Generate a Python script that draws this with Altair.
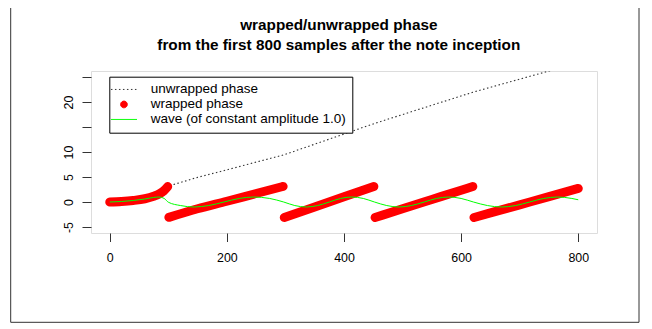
import altair as alt
import pandas as pd

# ---- data ----
# unwrapped phase (dotted line)
unwrap_x = [0, 20, 40, 60, 75, 85, 92, 100, 150, 200, 250, 297, 350, 400, 452,
            500, 550, 600, 621, 650, 700, 750, 800]
unwrap_y = [0, 0.1, 0.3, 0.65, 1.15, 1.65, 2.2, 3.18, 4.93, 6.43, 7.98, 9.42,
            11.57, 13.6, 15.71, 17.49, 19.35, 21.21, 21.99, 22.94, 24.57, 26.2, 27.84]

# wrapped phase, one branch between successive wraps
wrap_seg1_x = [0, 20, 40, 60, 75, 85, 92, 99]
wrap_seg1_y = [0, 0.1, 0.3, 0.65, 1.15, 1.65, 2.2, 3.08]
wrap_seg2_x = [101, 150, 200, 250, 296]
wrap_seg2_y = [-3.07, -1.35, 0.15, 1.70, 3.11]
wrap_seg3_x = [298, 350, 400, 451]
wrap_seg3_y = [-3.10, -0.99, 1.03, 3.10]
wrap_seg4_x = [453, 500, 550, 600, 620]
wrap_seg4_y = [-3.10, -1.36, 0.50, 2.36, 3.10]
wrap_seg5_x = [622, 650, 700, 750, 800]
wrap_seg5_y = [-3.10, -2.19, -0.56, 1.07, 2.71]

# wave of constant amplitude (green line)
wave_x = [0, 20, 40, 60, 75, 84, 93, 100, 121, 144, 169, 195, 221, 246, 273, 297,
          316, 336, 355, 375, 394, 413, 433, 452, 473, 494, 515, 537, 558, 579,
          600, 621, 645, 669, 693, 717, 741, 765, 789, 800]
wave_y = [0, 0.1, 0.3, 0.6, 0.91, 1.0, 0.71, -0.04, -0.71, -1, -0.71, 0, 0.71, 1,
          0.71, 0, -0.71, -1, -0.71, 0, 0.71, 1, 0.71, 0, -0.71, -1, -0.71, 0,
          0.71, 1, 0.71, 0, -0.71, -1, -0.71, 0, 0.71, 1, 0.71, 0.45]

series_labels = ["unwrapped phase", "wrapped phase", "wave (of constant amplitude 1.0)"]
series_colors = ["#333333", "#ff0000", "#00ff00"]

x_ticks = [0, 200, 400, 600, 800]
y_ticks = [-5, 0, 5, 10, 15, 20, 25]

title_lines = ["wrapped/unwrapped phase",
               "from the first 800 samples after the note inception"]

# ---- tables ----
df_unwrap = pd.DataFrame({"sample": unwrap_x, "value": unwrap_y,
                          "series": series_labels[0]})
segs = [(wrap_seg1_x, wrap_seg1_y), (wrap_seg2_x, wrap_seg2_y), (wrap_seg3_x, wrap_seg3_y),
        (wrap_seg4_x, wrap_seg4_y), (wrap_seg5_x, wrap_seg5_y)]
rows = []
for i, (sx, sy) in enumerate(segs):
    for a, b in zip(sx, sy):
        rows.append({"sample": a, "value": b, "seg": i, "series": series_labels[1]})
df_wrap = pd.DataFrame(rows)
df_wave = pd.DataFrame({"sample": wave_x, "value": wave_y, "series": series_labels[2]})

FONT = "Liberation Sans"

circle_path = "M-0.67,0A0.67,0.67,0,1,1,0.67,0A0.67,0.67,0,1,1,-0.67,0Z"
line_path = "M-2.6,0H2.6"

legend = alt.Legend(
    title=None, orient="none", legendX=18.3, legendY=5.7, direction="vertical",
    padding=6, strokeColor="black", fillColor="white", cornerRadius=0,
    labelFontSize=13.5, labelFont=FONT, labelColor="black", labelLimit=400,
    symbolSize=100, symbolStrokeWidth=1,
    symbolType=alt.ExprRef(f"datum.value === 'wrapped phase' ? '{circle_path}' : '{line_path}'"),
    symbolFillColor=alt.ExprRef("datum.value === 'wrapped phase' ? '#ff0000' : 'transparent'"),
    symbolDash=alt.ExprRef("datum.value === 'unwrapped phase' ? [1.5, 2.5] : [1, 0]"),
    symbolOpacity=1,
    symbolOffset=1.9, labelOffset=20, rowPadding=0,
)

x_enc = alt.X("sample:Q", scale=alt.Scale(domain=[-32, 832], nice=False, zero=False),
              axis=alt.Axis(values=x_ticks, title=None, domain=False, grid=False,
                            tickSize=8.5, tickColor="#333333", labelPadding=10,
                            labelFontSize=12.4, labelFont=FONT, labelColor="black",
                            labelFlush=False, labelOverlap=False, format="d"))
y_enc = alt.Y("value:Q", scale=alt.Scale(domain=[-6.2, 26.2], nice=False, zero=False),
              axis=alt.Axis(values=y_ticks, title=None, domain=False, grid=False,
                            tickSize=9, tickColor="#333333", labelPadding=7,
                            labelFontSize=12.4, labelFont=FONT, labelColor="black",
                            labelAngle=270, labelAlign="center", labelBaseline="bottom",
                            labelFlush=False, labelOverlap=False,
                            labelExpr="(datum.value == 15 || datum.value == 25) ? '' : '' + datum.value"))
color_enc = alt.Color("series:N", scale=alt.Scale(domain=series_labels, range=series_colors),
                      legend=legend)

# outer page frame (its top edge lies just above the visible area)
frame = alt.Chart(pd.DataFrame({"f": [0]})).mark_rect(
    fillOpacity=0, stroke="#333333", strokeWidth=1
).encode(x=alt.value(-80.3), x2=alt.value(548), y=alt.value(-64), y2=alt.value(251.3))

dotted = alt.Chart(df_unwrap).mark_line(
    strokeDash=[1.5, 2.5], strokeWidth=1.1, clip=True
).encode(x=x_enc, y=y_enc, color=color_enc)

wrapped = alt.Chart(df_wrap).mark_line(
    strokeWidth=9, strokeCap="round", strokeJoin="round", interpolate="monotone", clip=True
).encode(x=x_enc, y=y_enc, color=color_enc, detail="seg:N")

wave = alt.Chart(df_wave).mark_line(
    strokeWidth=1, interpolate="monotone", clip=True
).encode(x=x_enc, y=y_enc, color=color_enc)

chart = alt.layer(frame, dotted, wrapped, wave).properties(
    width=506, height=162,
    title=alt.TitleParams(text=title_lines, fontSize=15.3, fontWeight="bold",
                          font=FONT, color="black", lineHeight=20.5,
                          anchor="middle", frame="group", offset=-47, dx=-5.2),
    autosize=alt.AutoSizeParams(type="none"),
    padding={"left": 83, "top": 63, "right": 47, "bottom": 91},
).configure_view(stroke="#333333", strokeWidth=1).configure(font=FONT)

chart.save("out.html", embed_options={"renderer": "svg", "actions": False})
